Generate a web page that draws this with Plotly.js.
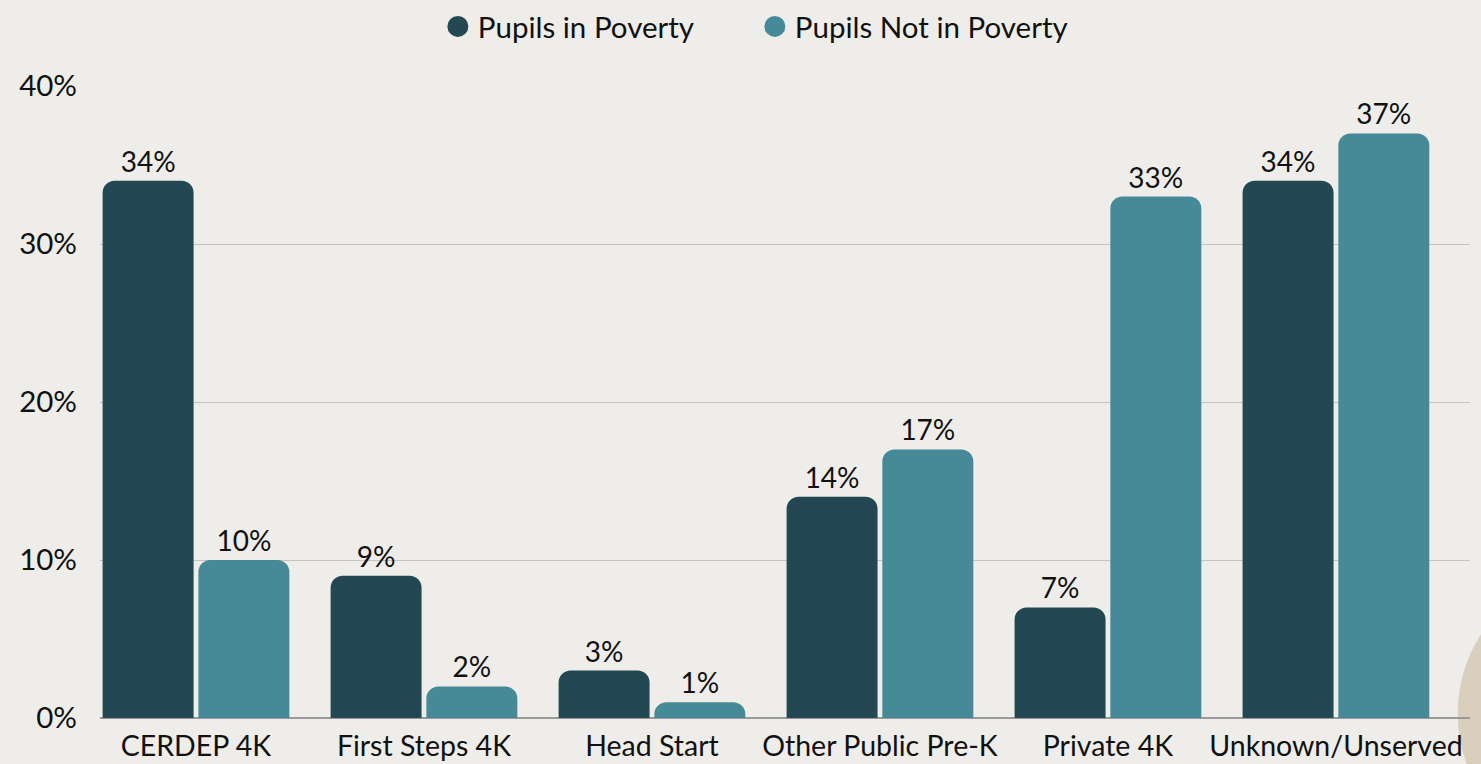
<!DOCTYPE html>
<html><head><meta charset="utf-8">
<script src="https://cdn.plot.ly/plotly-3.0.1.min.js"></script>
<style>html,body{margin:0;padding:0;background:#eeedea;}#chart{width:1481px;height:764px;}</style>
</head><body><div id="chart"></div>
<script>
const categories = ["CERDEP 4K","First Steps 4K","Head Start","Other Public Pre-K","Private 4K","Unknown/Unserved"];
const poverty = [34, 9, 3, 14, 7, 34];
const notPoverty = [10, 2, 1, 17, 33, 37];
const seriesNames = ["Pupils in Poverty","Pupils Not in Poverty"];
const colors = ["#234853","#468997"];
const font = "Lato, 'Open Sans', sans-serif";

const bar = (y, i) => ({
  type: "bar", x: categories, y: y, name: seriesNames[i], showlegend: false,
  marker: {color: colors[i]}, text: y.map(v => v + "%"), textposition: "outside",
  textfont: {size: 28, color: "#111"}, cliponaxis: false, hoverinfo: "x+y"
});
const leg = i => ({
  type: "scatter", mode: "markers", x: [null], y: [null], name: seriesNames[i],
  marker: {color: colors[i], size: 30, symbol: "circle", line: {color: colors[i], width: 6}}, showlegend: true
});
const data = [bar(poverty,0), bar(notPoverty,1), leg(0), leg(1)];
const layout = {
  width: 1481, height: 764,
  paper_bgcolor: "#eeedea", plot_bgcolor: "rgba(0,0,0,0)",
  font: {family: font, color: "#111", size: 28},
  margin: {l: 100, r: 11, t: 86, b: 46},
  barmode: "group", bargap: 0.16, bargroupgap: 0.05, barcornerradius: 12,
  xaxis: {type: "category", range: [-0.421, 5.588], showgrid: false, showline: false,
    tickfont: {size: 28.5, color: "#111"}, ticks: "", ticklabelstandoff: 8, fixedrange: true},
  yaxis: {range: [0, 40], dtick: 10, ticksuffix: "%", showgrid: true, gridcolor: "#c4c4c4",
    gridwidth: 1, zeroline: true, zerolinecolor: "#9a9a9a", zerolinewidth: 1.5,
    tickfont: {size: 29.5, color: "#111"}, ticklabelstandoff: 22, fixedrange: true},
  legend: {orientation: "h", x: 0.478, xanchor: "center", xref: "paper", y: 0.965, yanchor: "middle",
    yref: "container", entrywidth: 272, entrywidthmode: "pixels",
    font: {size: 29.5, color: "#111"}, itemsizing: "trace", bgcolor: "rgba(0,0,0,0)"},
  shapes: [{type: "circle", xref: "paper", yref: "paper", layer: "below",
    x0: 0.991, x1: 1.16, y0: -0.2, y1: 0.215, fillcolor: "#d9cfbc", line: {width: 0}}]
};
Plotly.newPlot("chart", data, layout, {displayModeBar: false, staticPlot: true});
</script></body></html>
